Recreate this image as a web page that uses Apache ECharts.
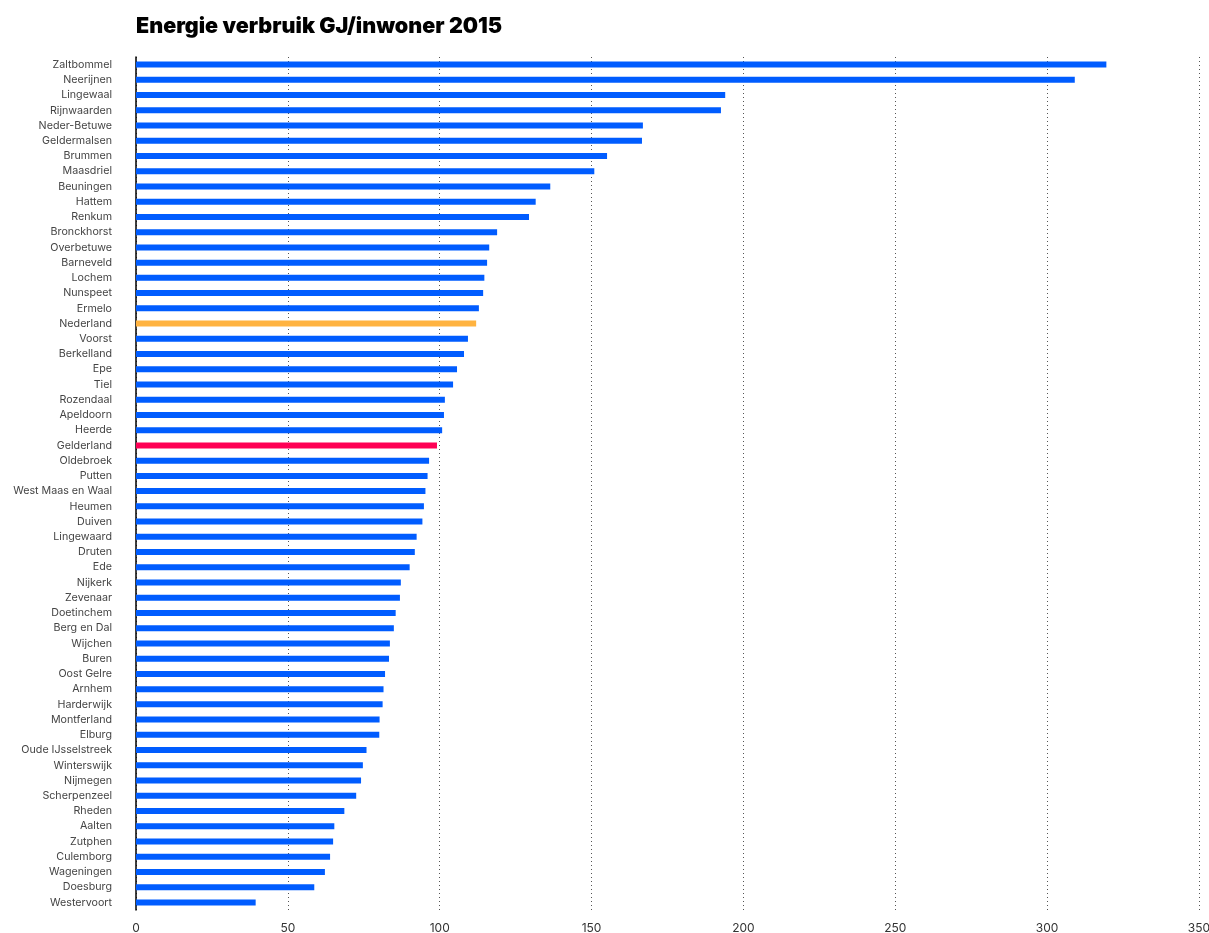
<!DOCTYPE html>
<html>
<head>
<meta charset="utf-8">
<script src="https://cdn.jsdelivr.net/npm/echarts@6/dist/echarts.min.js"></script>
<style>
html,body{margin:0;padding:0;background:#fff;}
#chart{width:1209px;height:933px;}
</style>
</head>
<body>
<div id="chart"></div>
<script>
const categories = ["Zaltbommel","Neerijnen","Lingewaal","Rijnwaarden","Neder-Betuwe","Geldermalsen","Brummen","Maasdriel","Beuningen","Hattem","Renkum","Bronckhorst","Overbetuwe","Barneveld","Lochem","Nunspeet","Ermelo","Nederland","Voorst","Berkelland","Epe","Tiel","Rozendaal","Apeldoorn","Heerde","Gelderland","Oldebroek","Putten","West Maas en Waal","Heumen","Duiven","Lingewaard","Druten","Ede","Nijkerk","Zevenaar","Doetinchem","Berg en Dal","Wijchen","Buren","Oost Gelre","Arnhem","Harderwijk","Montferland","Elburg","Oude IJsselstreek","Winterswijk","Nijmegen","Scherpenzeel","Rheden","Aalten","Zutphen","Culemborg","Wageningen","Doesburg","Westervoort"];
const values = [319.5,309.1,194.0,192.6,166.9,166.6,155.1,150.9,136.4,131.6,129.4,118.9,116.3,115.6,114.7,114.3,112.9,112.0,109.3,108.0,105.7,104.4,101.7,101.4,100.8,99.1,96.5,96.0,95.3,94.8,94.3,92.4,91.8,90.1,87.2,86.9,85.5,84.9,83.6,83.3,82.0,81.5,81.2,80.2,80.1,75.9,74.7,74.1,72.5,68.6,65.3,64.9,63.9,62.2,58.7,39.4];
const xTicks = [0,50,100,150,200,250,300,350];
const highlightNames = {"Nederland":"#FFB340","Gelderland":"#FF0055"};
const baseColor = "#005CFF";

const chart = echarts.init(document.getElementById('chart'));
const data = categories.map((c,i)=>({
  value: values[i],
  itemStyle: {color: highlightNames[c] || baseColor}
}));
chart.setOption({
  animation:false,
  title:{
    text:'Energie verbruik GJ/inwoner 2015',
    left:131, top:11,
    textStyle:{fontFamily:'Inter', fontWeight:900, fontSize:21.5, color:'#000'}
  },
  grid:{left:136, right:10, top:57, bottom:23, containLabel:false, outerBoundsMode:'none'},
  xAxis:{
    type:'value', min:xTicks[0], max:xTicks[xTicks.length-1], interval:50,
    axisLine:{show:false}, axisTick:{show:false},
    axisLabel:{color:'#333', fontFamily:'Inter', fontSize:12, margin:12},
    splitLine:{show:true, lineStyle:{type:[1,3], color:'#555', width:1}}
  },
  yAxis:{
    type:'category', data:categories, inverse:true,
    axisLine:{show:true, lineStyle:{color:'#000', width:1.5}},
    axisTick:{show:false},
    axisLabel:{color:'#444', fontFamily:'Inter', fontSize:10.7, margin:24}
  },
  series:[{
    type:'bar', data:data, barWidth:6
  }]
});
</script>
</body>
</html>
